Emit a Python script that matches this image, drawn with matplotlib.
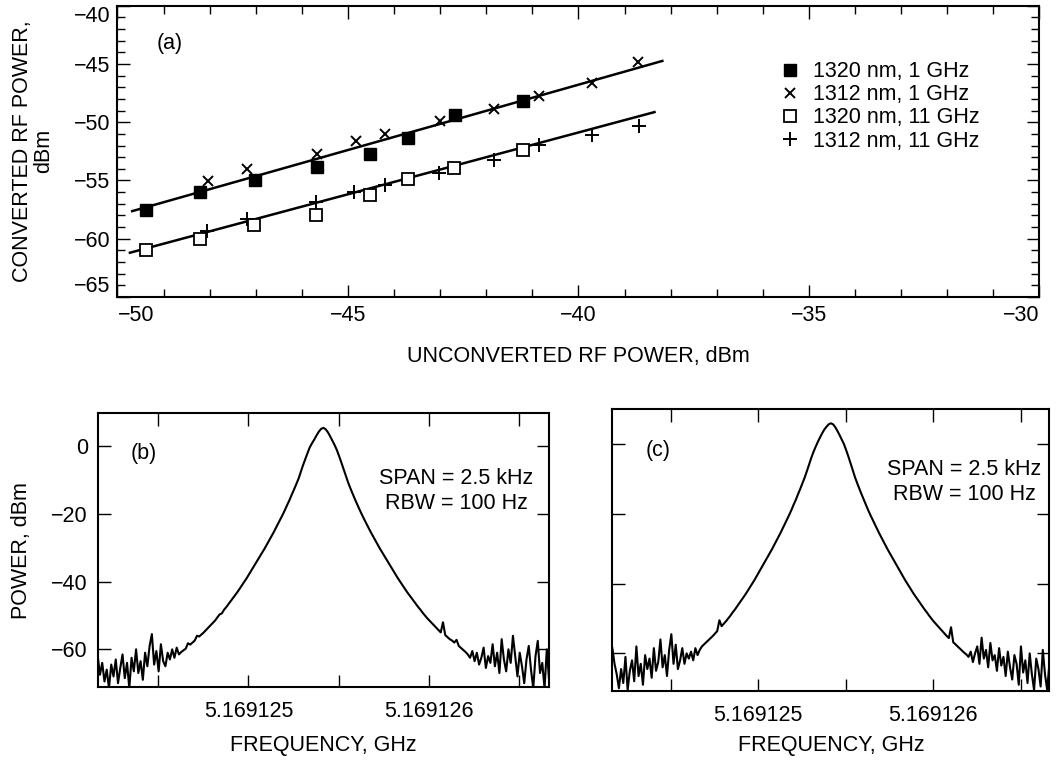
import numpy as np
import matplotlib
matplotlib.use("Agg")
import matplotlib.pyplot as plt
from matplotlib.ticker import MultipleLocator, FixedLocator, FuncFormatter

plt.rcParams['font.family'] = ['Liberation Sans', 'DejaVu Sans']
FS = 15.5

# ---------------- panel (a) data ----------------
sq_1g_x = [-49.37, -48.21, -47.02, -45.68, -44.52, -43.70, -42.68, -41.20]
sq_1g_y = [-57.49, -55.98, -54.95, -53.87, -52.70, -51.36, -49.42, -48.14]

x_1g_x = [-48.03, -47.18, -45.68, -44.83, -44.20, -43.00, -41.83, -40.85, -39.70, -38.71]
x_1g_y = [-55.07, -54.01, -52.70, -51.64, -51.02, -49.93, -48.85, -47.74, -46.60, -44.80]

osq_11g_x = [-49.38, -48.21, -47.03, -45.69, -44.52, -43.70, -42.70, -41.20]
osq_11g_y = [-60.97, -60.06, -58.86, -57.92, -56.23, -54.87, -53.93, -52.36]

p_11g_x = [-48.05, -47.20, -45.69, -44.87, -44.20, -43.02, -41.83, -40.85, -39.70, -38.69]
p_11g_y = [-59.34, -58.29, -56.83, -55.98, -55.41, -54.35, -53.21, -51.93, -51.13, -50.30]

fit_1g_x = [-49.68, -38.18]
fit_1g_y = [-57.63, -44.74]
fit_11g_x = [-49.73, -38.35]
fit_11g_y = [-61.20, -49.13]

labels_a = ['1320 nm, 1 GHz', '1312 nm, 1 GHz', '1320 nm, 11 GHz', '1312 nm, 11 GHz']

# ---------------- panels (b), (c) spectra ----------------
f_ref_ghz = 5.169125
f_start_hz = -835.0     # first sweep point, relative to 5.169125 GHz
f_step_hz = 12.5
span_hz = 2500.0

power_b = [
    -62.0, -67.5, -64.0, -69.5, -66.0, -71.5, -64.5, -68.0, -63.0, -70.0,
    -65.5, -61.5, -68.5, -64.0, -71.5, -62.5, -66.5, -60.0, -67.0, -63.5,
    -69.0, -61.0, -65.0, -59.0, -55.5, -64.5, -60.5, -66.5, -58.5, -63.5,
    -65.0, -61.0, -63.0, -60.0, -62.5, -59.5, -61.5,
    -60.8, -60.3, -59.8, -58.2, -58.6, -58.0, -57.4, -56.0, -56.2, -55.6,
    -55.0, -54.3, -53.6, -52.9, -52.2, -51.5, -50.6, -49.7, -49.4, -48.3,
    -47.5, -46.6, -45.7, -44.8, -43.9, -43.0, -42.0, -41.0, -40.0, -39.0,
    -37.9, -36.8, -35.7, -34.6, -33.5, -32.4, -31.3, -30.2, -29.0, -27.8,
    -26.6, -25.4, -24.1, -22.8, -21.5, -20.2, -18.8, -17.3, -15.9, -14.3,
    -12.8, -11.2, -9.6, -7.6, -5.6, -3.8, -2.0, -0.3, 0.9, 2.0,
    3.2, 4.3, 5.1, 5.4,
    5.0, 4.1, 2.9, 1.6, 0.3, -1.2, -3.0, -4.9, -6.9, -8.9,
    -10.8, -12.5, -14.1, -15.7, -17.2, -18.7, -20.1, -21.5, -22.8, -24.1,
    -25.4, -26.6, -27.8, -29.0, -30.2, -31.3, -32.4, -33.5, -34.6, -35.7,
    -36.8, -37.9, -39.0, -40.0, -41.0, -42.0, -43.0, -43.9, -44.8, -45.7,
    -46.6, -47.5, -48.3, -49.2, -50.0, -50.8, -51.5, -52.2, -52.9, -53.6,
    -54.3, -55.0, -52.0, -55.8, -56.4, -57.0, -57.4, -58.0, -57.2, -59.0,
    -59.6, -60.2, -60.8,
    -61.5, -62.5, -60.5, -63.5, -61.0, -64.5, -62.5, -59.5, -65.5, -62.0,
    -64.0, -58.5, -65.0, -61.0, -67.0, -57.0, -63.0, -66.5, -60.0, -64.0,
    -56.0, -62.0, -68.0, -61.0, -65.0, -70.0, -63.0, -59.0, -66.0, -71.5,
    -62.0, -57.5, -67.0, -64.0, -71.5, -60.0, -69.0,
]

power_c = [
    -58.5, -63.0, -66.0, -70.0, -64.5, -68.5, -61.0, -70.5, -65.0, -62.0,
    -68.0, -58.0, -66.5, -63.0, -69.0, -60.5, -64.5, -61.5, -67.0, -58.5,
    -65.0, -62.5, -56.0, -64.0, -60.5, -66.5, -59.0, -54.5, -63.0, -57.5,
    -64.5, -62.0, -58.5, -63.0, -60.0, -61.5, -59.5, -62.0, -58.5, -60.5,
    -59.0, -58.0,
    -57.4, -56.8, -56.2, -55.6, -55.0, -54.3, -53.6, -50.5, -52.2, -51.5,
    -50.8, -50.0, -49.2, -48.3, -47.5, -46.6, -45.7, -44.8, -43.9, -43.0,
    -42.0, -41.0, -40.0, -39.0, -37.9, -36.8, -35.7, -34.6, -33.5, -32.4,
    -31.3, -30.2, -29.0, -27.8, -26.6, -25.4, -24.1, -22.8, -21.5, -20.2,
    -18.8, -17.3, -15.9, -14.3, -12.8, -11.2, -9.6, -7.8, -5.9, -4.0,
    -2.3, -0.8, 0.6, 1.9, 3.1, 4.2, 5.0, 5.7, 6.0,
    5.7, 4.9, 3.8, 2.6, 1.3, 0.0, -1.7, -3.5, -5.4, -7.4,
    -9.4, -11.1, -12.7, -14.3, -15.8, -17.3, -18.8, -20.2, -21.5, -22.8,
    -24.1, -25.4, -26.6, -27.8, -29.0, -30.2, -31.3, -32.4, -33.5, -34.6,
    -35.7, -36.8, -37.9, -39.0, -40.0, -41.0, -42.0, -43.0, -43.9, -44.8,
    -45.7, -46.6, -47.5, -48.3, -49.2, -50.0, -50.8, -51.5, -52.2, -52.9,
    -53.6, -54.3, -55.0, -55.6, -52.5, -56.8, -57.4, -58.0, -58.6, -59.2,
    -59.8, -60.3,
    -61.0, -59.5, -62.5, -60.0, -58.0, -63.0, -55.5, -61.5, -59.0, -64.0,
    -57.0, -62.0, -60.5, -65.0, -58.5, -63.5, -61.0, -66.5, -59.5, -64.0,
    -67.5, -60.5, -63.0, -69.0, -58.0, -65.5, -62.0, -68.5, -60.0, -66.0,
    -70.5, -61.5, -64.5, -69.5, -59.0, -66.0, -70.5, -63.0,
]

freq_major_ghz = [5.169125, 5.169126]
freq_minor_ghz = [5.1691245, 5.1691255, 5.1691265]
power_ticks = [0, -20, -40, -60]


def sweep_ghz(n):
    return f_ref_ghz + (f_start_hz + f_step_hz * np.arange(n)) * 1e-9


fig = plt.figure(figsize=(10.62, 7.61), dpi=100)

# ---------------- (a) ----------------
ax = fig.add_axes([0.1106, 0.6097, 0.8681, 0.3828])
ax.plot(fit_1g_x, fit_1g_y, color='black', lw=1.8, zorder=2)
ax.plot(fit_11g_x, fit_11g_y, color='black', lw=1.8, zorder=2)
h1, = ax.plot(sq_1g_x, sq_1g_y, 's', ms=9, mfc='black', mec='black', mew=1.0,
              ls='none', zorder=3, label=labels_a[0])
h2, = ax.plot(x_1g_x, x_1g_y, 'x', ms=7.5, mec='black', mew=1.4,
              ls='none', zorder=3, label=labels_a[1])
h3, = ax.plot(osq_11g_x, osq_11g_y, 's', ms=9, mfc='white', mec='black', mew=1.3,
              ls='none', zorder=3, label=labels_a[2])
h4, = ax.plot(p_11g_x, p_11g_y, '+', ms=10, mec='black', mew=1.4,
              ls='none', zorder=3, label=labels_a[3])

ax.set_xlim(-50, -30)
ax.set_ylim(-65, -40)
ax.set_xticks([-50, -45, -40, -35, -30])
ax.set_yticks([-65, -60, -55, -50, -45, -40])
ax.xaxis.set_minor_locator(MultipleLocator(1))
ax.yaxis.set_minor_locator(MultipleLocator(1))
ax.tick_params(which='both', direction='in', top=True, right=True, width=1.0,
               labelsize=FS)
ax.tick_params(which='major', length=9)
ax.tick_params(which='minor', length=5.5)
ax.tick_params(axis='x', which='major', pad=6)
ax.tick_params(axis='y', which='major', pad=5)
for s in ax.spines.values():
    s.set_linewidth(1.5)

xl = ax.get_xticklabels()
xl[0].set_ha('left')
xl[-1].set_ha('right')
yl = ax.get_yticklabels()
yl[0].set_va('bottom')
yl[-1].set_va('top')

ax.set_xlabel('UNCONVERTED RF POWER, dBm', fontsize=FS, va='center')
ax.xaxis.set_label_coords(0.5, -0.203)
ax.set_ylabel('CONVERTED RF POWER,\ndBm', fontsize=FS, va='center',
              multialignment='center', linespacing=1.0)
ax.yaxis.set_label_coords(-0.0916, 0.5)
ax.text(0.057, 0.869, '(a)', transform=ax.transAxes, fontsize=FS,
        ha='center', va='center')

ax.legend(handles=[h1, h2, h3, h4], loc='upper left', bbox_to_anchor=(0.718, 0.81),
          frameon=False, handlelength=1.0, handletextpad=0.57, labelspacing=0.1,
          borderpad=0, borderaxespad=0, numpoints=1, fontsize=FS)


# ---------------- (b), (c) ----------------
def spectrum_panel(rect, power, ylim, tag, show_ylabels):
    a = fig.add_axes(rect)
    fq = sweep_ghz(len(power))
    a.plot(fq, power, color='black', lw=1.5)
    a.set_xlim(f_ref_ghz + f_start_hz * 1e-9, f_ref_ghz + (f_start_hz + span_hz) * 1e-9)
    a.set_ylim(*ylim)
    a.xaxis.set_major_locator(FixedLocator(freq_major_ghz))
    a.xaxis.set_minor_locator(FixedLocator(freq_minor_ghz))
    a.xaxis.set_major_formatter(FuncFormatter(lambda v, p: f'{v:.6f}'))
    a.set_yticks(power_ticks)
    a.tick_params(which='both', direction='in', top=True, right=True, width=1.0,
                  length=9, labelsize=FS)
    a.tick_params(axis='x', pad=10)
    a.tick_params(axis='y', pad=7)
    if not show_ylabels:
        a.set_yticklabels([])
    for s in a.spines.values():
        s.set_linewidth(1.5)
    a.set_xlabel('FREQUENCY, GHz', fontsize=FS, va='center')
    a.text(tag[1], tag[2], tag[0], transform=a.transAxes, fontsize=FS,
           ha='center', va='center')
    return a


axb = spectrum_panel([0.0920, 0.0969, 0.4250, 0.3600], power_b, (-71.2, 9.7),
                     ('(b)', 0.103, 0.855), True)
axb.xaxis.set_label_coords(0.5, -0.214)
axb.set_ylabel('POWER, dBm', fontsize=FS, va='center')
axb.yaxis.set_label_coords(-0.168, 0.5)
axb.text(0.794, 0.716, 'SPAN = 2.5 kHz\nRBW = 100 Hz', transform=axb.transAxes,
         fontsize=FS, ha='center', va='center', multialignment='center',
         linespacing=1.25)

axc = spectrum_panel([0.5766, 0.0924, 0.4115, 0.3702], power_c, (-70.7, 10.1),
                     ('(c)', 0.105, 0.854), False)
axc.xaxis.set_label_coords(0.5, -0.196)
axc.text(0.805, 0.741, 'SPAN = 2.5 kHz\nRBW = 100 Hz', transform=axc.transAxes,
         fontsize=FS, ha='center', va='center', multialignment='center',
         linespacing=1.25)

fig.savefig('out.png', dpi=100, facecolor='white')
